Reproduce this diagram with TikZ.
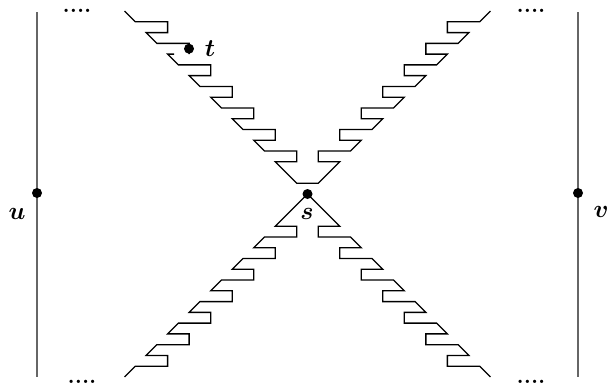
\documentclass[tikz,border=0pt]{standalone}
\usepackage{amsmath,amssymb}
\usepackage{tikz}
\usetikzlibrary{positioning,calc}
\tikzset{
  stair/.style={black,line width=1.3pt,line join=miter},
  rail/.style={black!60,line width=1.1pt},
  vertex/.style={circle,fill=black,inner sep=0pt,minimum size=10pt},
  lbl/.style={font=\fontsize{24}{28}\selectfont\boldmath,inner sep=0pt},
  etc/.style={font=\fontsize{23}{26}\selectfont\bfseries,inner sep=0pt,anchor=base}
}

\begin{document}
\begin{tikzpicture}[x=1pt,y=-1pt]
\useasboundingbox (0,0) rectangle (609,389);
% side rails
\coordinate (uTop) at (37,12);
\coordinate (uBot) at (37,377);
\coordinate (vTop) at (578,12);
\coordinate (vBot) at (578,377);
\draw[rail] (uTop) -- (uBot);
\draw[rail] (vTop) -- (vBot);
\node[vertex] (du) at (37,193) {};
\node[vertex] (dv) at (578,193) {};
\node[lbl] (u) at (17,214) {$u$};
\node[lbl] (v) at (601,212) {$v$};
% ellipses at the ends
\node[etc] (etcTL) at (77,12) {....};
\node[etc] (etcBL) at (82,383) {....};
\node[etc] (etcTR) at (531,12) {....};
\node[etc] (etcBR) at (531,383) {....};
% the two staircases, unit = one half step
\begin{scope}[shift={(307.5,194)},x=10.76pt,y=-10.76pt]
  % upper half, broken at t
  \draw[stair] (-17,-17) -- ++(1,1) -- ++(3,0) -- ++(0,1) -- ++(-2,0)
    -- ++(1,1) -- ++(3,0) -- ++(0,1);
  \draw[stair] (-12.4,-13) -- (-13,-13)
    \foreach \k in {1,...,5}{ -- ++(1,1) -- ++(3,0) -- ++(0,1) -- ++(-2,0) }
    -- ++(2,2) -- ++(2,0) -- ++(2,-2)
    \foreach \k in {1,...,7}{ -- ++(-2,0) -- ++(0,-1) -- ++(3,0) -- ++(1,-1) };
  % lower half, meeting at s
  \draw[stair] (-17,17)
    \foreach \k in {1,...,7}{ -- ++(1,-1) -- ++(3,0) -- ++(0,-1) -- ++(-2,0) }
    -- (0,0) -- (3,3)
    \foreach \k in {1,...,7}{ -- ++(-2,0) -- ++(0,1) -- ++(3,0) -- ++(1,1) };
\end{scope}
\node[vertex] (ds) at (307.5,194) {};
\node[vertex] (dt) at (189,48.7) {};
\node[lbl] (s) at (307,214) {$s$};
\node[lbl] (t) at (210,49) {$t$};
\end{tikzpicture}
\end{document}
